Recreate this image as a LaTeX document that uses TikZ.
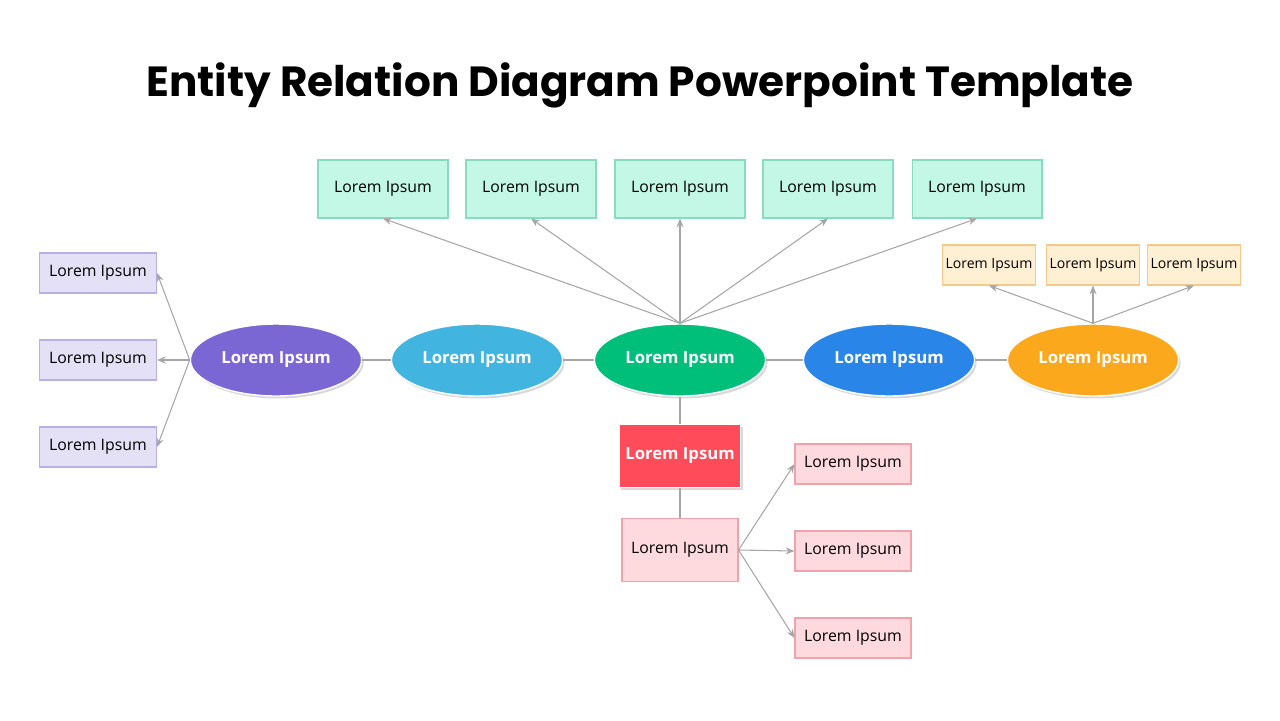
\documentclass[tikz,border=0pt]{standalone}
\usepackage{fontspec}
\setmainfont{Open Sans}
\newfontfamily\titlefont{Poppins}
\usetikzlibrary{arrows.meta, shapes.geometric, shadows}
\definecolor{mintfill}{HTML}{C3F8E6}
\definecolor{mintdraw}{HTML}{85DDBD}
\definecolor{lilacfill}{HTML}{E4E0F6}
\definecolor{lilacdraw}{HTML}{B9AEE5}
\definecolor{peachfill}{HTML}{FFF0D4}
\definecolor{peachdraw}{HTML}{F5C98A}
\definecolor{pinkfill}{HTML}{FEDADF}
\definecolor{pinkdraw}{HTML}{F0A3AB}
\definecolor{linkgray}{HTML}{A6A6A6}
\definecolor{cpurple}{HTML}{7A67D3}
\definecolor{ccyan}{HTML}{41B4E0}
\definecolor{cgreen}{HTML}{00BF7A}
\definecolor{cblue}{HTML}{2A85E8}
\definecolor{corange}{HTML}{FBA81C}
\definecolor{cred}{HTML}{FF4B5A}
\tikzset{
  box/.style={rectangle, draw, line width=0.6pt, font=\fontsize{9}{10}\selectfont, inner sep=0pt},
  topbox/.style={box, fill=mintfill, draw=mintdraw, minimum width=2.6cm, minimum height=1.16cm},
  leftbox/.style={box, fill=lilacfill, draw=lilacdraw, minimum width=2.34cm, minimum height=0.8cm},
  smallbox/.style={box, fill=peachfill, draw=peachdraw, minimum width=1.86cm, minimum height=0.8cm, font=\fontsize{8}{9}\selectfont},
  pinkbox/.style={box, fill=pinkfill, draw=pinkdraw, minimum width=2.32cm, minimum height=0.8cm},
  entity/.style={ellipse, draw=white, line width=0.8pt, minimum width=2.56cm, minimum height=1.44cm,
    text=white, font=\bfseries\fontsize{9.5}{11}\selectfont, drop shadow={opacity=0.3, shadow xshift=0.04cm, shadow yshift=-0.05cm}},
  link/.style={draw=linkgray, line width=0.6pt},
  arr/.style={link, -{Stealth[length=5pt, width=4pt]}}
}
\begin{document}
\begin{tikzpicture}[x=0.02cm, y=-0.02cm]
  \useasboundingbox (0,0) rectangle (1280,720);
  \node (title) at (640,85) {\titlefont\bfseries\fontsize{24}{28}\selectfont Entity Relation Diagram Powerpoint Template};
  % entities
  \node (e1)[entity, fill=cpurple] at (276,360) {Lorem Ipsum};
  \node (e2)[entity, fill=ccyan] at (477,360) {Lorem Ipsum};
  \node (e3)[entity, fill=cgreen] at (680,360) {Lorem Ipsum};
  \node (e4)[entity, fill=cblue] at (889,360) {Lorem Ipsum};
  \node (e5)[entity, fill=corange] at (1093,360) {Lorem Ipsum};
  % top row
  \node (t1)[topbox] at (383,189) {Lorem Ipsum};
  \node (t2)[topbox] at (531,189) {Lorem Ipsum};
  \node (t3)[topbox] at (680,189) {Lorem Ipsum};
  \node (t4)[topbox] at (828,189) {Lorem Ipsum};
  \node (t5)[topbox] at (977,189) {Lorem Ipsum};
  % left column
  \node (l1)[leftbox] at (98,273) {Lorem Ipsum};
  \node (l2)[leftbox] at (98,360) {Lorem Ipsum};
  \node (l3)[leftbox] at (98,447) {Lorem Ipsum};
  % orange attributes
  \node (o1)[smallbox] at (989,265) {Lorem Ipsum};
  \node (o2)[smallbox] at (1093,265) {Lorem Ipsum};
  \node (o3)[smallbox] at (1194,265) {Lorem Ipsum};
  % lower branch
  \node (r)[rectangle, fill=cred, draw=white, line width=0.8pt, minimum width=2.32cm, minimum height=1.26cm, text=white,
    font=\bfseries\fontsize{9.5}{11}\selectfont, drop shadow={opacity=0.3, shadow xshift=0.04cm, shadow yshift=-0.05cm}] at (680,456) {Lorem Ipsum};
  \node (p)[pinkbox, minimum height=1.26cm] at (680,550) {Lorem Ipsum};
  \node (p1)[pinkbox] at (853,464) {Lorem Ipsum};
  \node (p2)[pinkbox] at (853,551) {Lorem Ipsum};
  \node (p3)[pinkbox] at (853,638) {Lorem Ipsum};
  % links
  \begin{scope}[on background layer/.style={}]
  \draw[link] (e1) -- (e2);
  \draw[link] (e2) -- (e3);
  \draw[link] (e3) -- (e4);
  \draw[link] (e4) -- (e5);
  \draw[link] (e3) -- (r);
  \draw[link] (r) -- (p);
  \end{scope}
  \foreach \t in {t1,t2,t3,t4,t5}
    \draw[arr] (e3.north) -- (\t.south);
  \foreach \l in {l1,l2,l3}
    \draw[arr] (e1.west) -- (\l.east);
  \foreach \o in {o1,o2,o3}
    \draw[arr] (e5.north) -- (\o.south);
  \foreach \q in {p1,p2,p3}
    \draw[arr] (p.east) -- (\q.west);
\end{tikzpicture}
\end{document}
